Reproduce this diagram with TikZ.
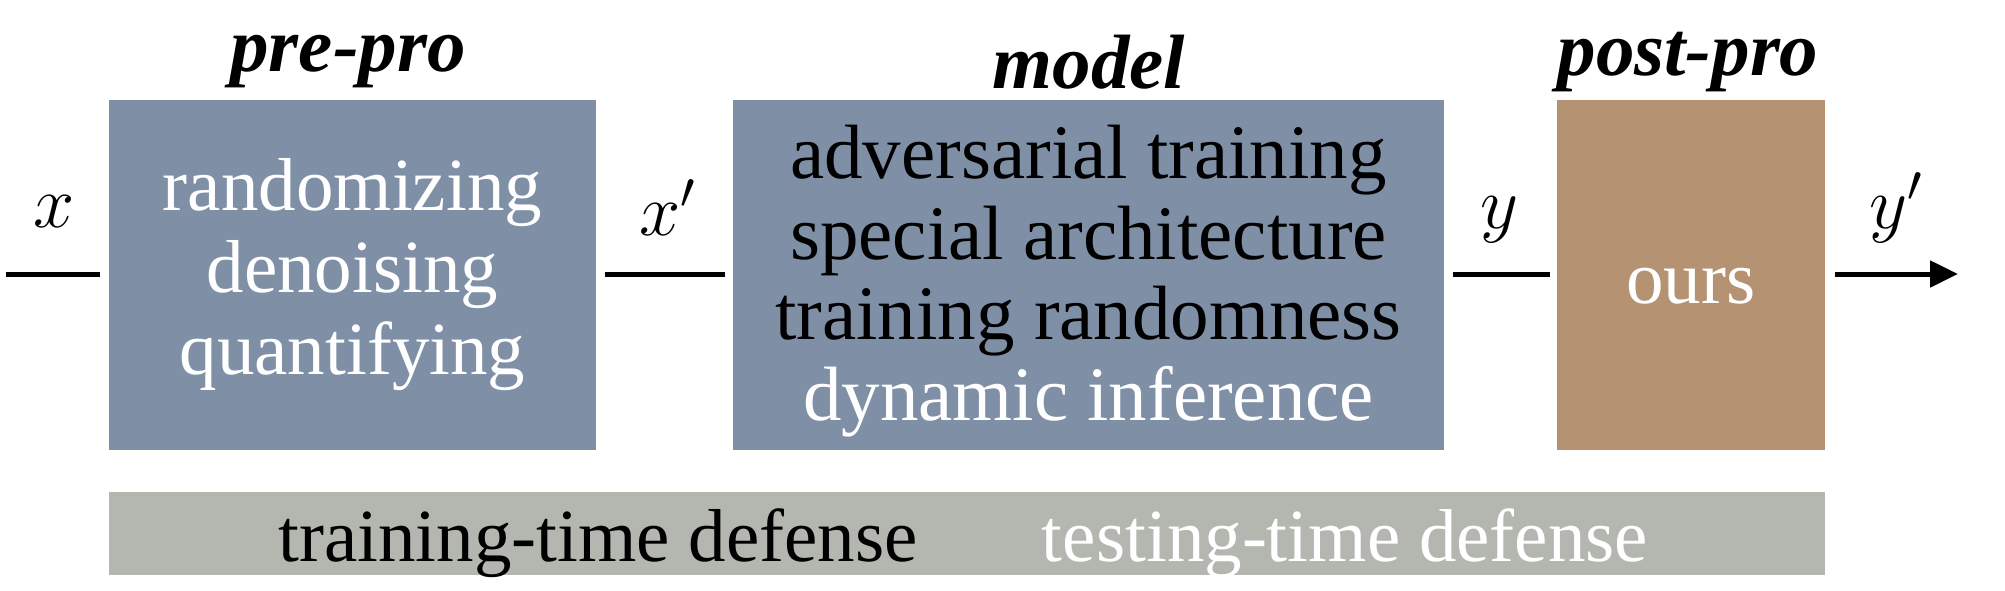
\RequirePackage{fix-cm}
\documentclass[tikz,border=0pt]{standalone}
\usepackage{fontspec}
\setmainfont{Liberation Serif}
\usetikzlibrary{arrows.meta}
\definecolor{boxblue}{HTML}{7F90A6}
\definecolor{boxbrown}{HTML}{B49272}
\definecolor{bargray}{HTML}{B4B7B0}
\begin{document}
\begin{tikzpicture}[x=1pt,y=-1pt,
  blockbox/.style={fill=boxblue,draw=none,minimum height=350pt,align=center,inner sep=0pt,
    font=\fontsize{75}{82}\selectfont},
  titletext/.style={font=\fontsize{77}{80}\selectfont\bfseries\itshape},
  vartext/.style={font=\fontsize{74}{74}\selectfont},
  bartext/.style={font=\fontsize{75}{75}\selectfont},
  wire/.style={line width=5pt},
]
\useasboundingbox (0,0) rectangle (2005,590);
\node[blockbox,minimum width=487pt,text=white] (pre) at (352.5,275) {randomizing\\denoising\\quantifying};
\node[blockbox,minimum width=711pt] (model) at (1088.5,275) {};
\node[font=\fontsize{77}{80.5}\selectfont,align=center,inner sep=0pt] (modeltext) at (1088.5,281)
  {adversarial training\\special architecture\\training randomness\\\textcolor{white}{dynamic inference}};
\node[blockbox,fill=boxbrown,minimum width=268pt] (post) at (1691,275) {};
\node[font=\fontsize{75}{75}\selectfont,text=white] (ours) at (1691,286) {ours};
\node[fill=bargray,minimum width=1716pt,minimum height=83pt,inner sep=0pt] (bar) at (967,533.5) {};
\node[bartext,text=black] (train) at (598,543) {training-time defense};
\node[bartext,text=white] (test) at (1345,543) {testing-time defense};

\node[titletext] (tpre) at (348,62) {pre-pro};
\node[titletext] (tmodel) at (1089,62) {model};
\node[titletext] (tpost) at (1688,62) {post-pro};

\node[vartext] (lx) at (54,212) {$x$};
\node[vartext] (lxp) at (667,208) {$x'$};
\node[vartext] (ly) at (1499,220) {$y$};
\node[vartext] (lyp) at (1896,208) {$y'$};

\coordinate (in) at (6,274);
\coordinate (out) at (1958,274);
\draw[wire,shorten >=9pt] (in) -- (in -| pre.west);
\draw[wire,shorten <=9pt,shorten >=8pt] (in -| pre.east) -- (in -| model.west);
\draw[wire,shorten <=9pt,shorten >=7pt] (in -| model.east) -- (in -| post.west);
\draw[wire,shorten <=10pt,-{Triangle[length=28pt,width=26pt]}] (in -| post.east) -- (out);
\end{tikzpicture}
\end{document}
